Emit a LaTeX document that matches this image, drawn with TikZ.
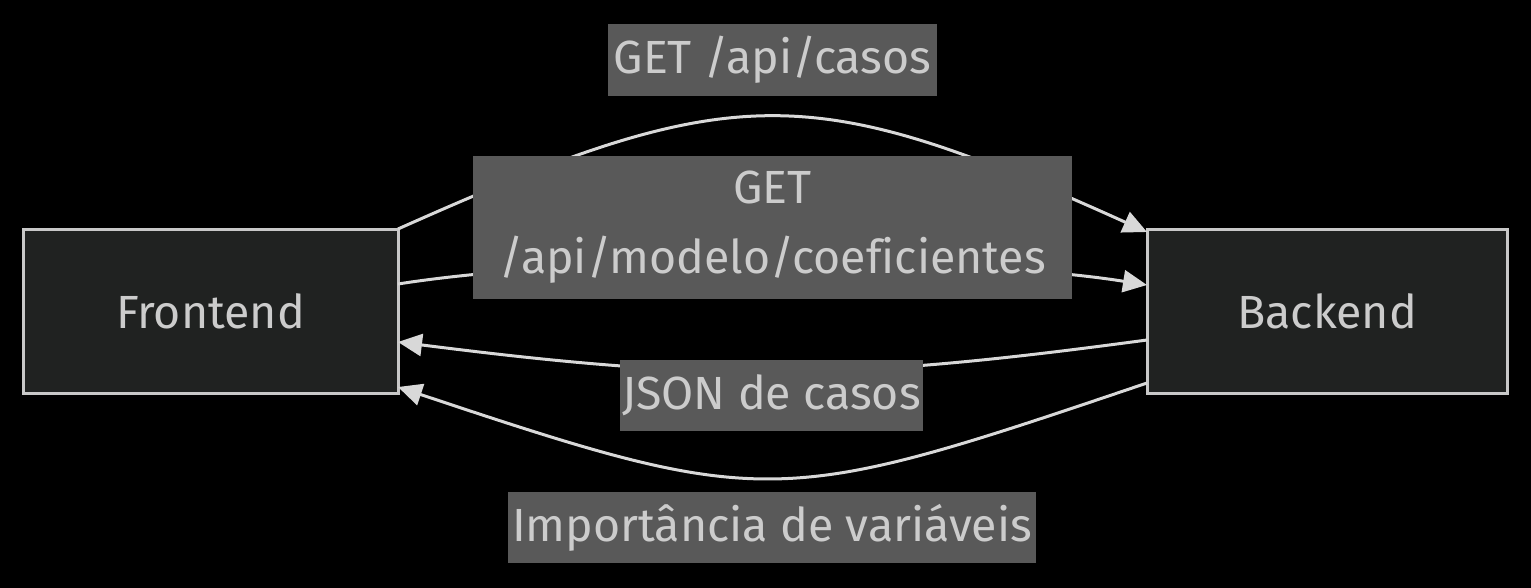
\documentclass[tikz,border=0pt]{standalone}
\usepackage{fontspec}
\setmainfont{Fira Sans}[Ligatures=NoCommon]
\usetikzlibrary{arrows.meta}
\definecolor{nodefill}{HTML}{202221}
\definecolor{nodeline}{HTML}{C8C8C8}
\definecolor{textgray}{HTML}{CCCCCC}
\definecolor{labelfill}{HTML}{595959}
\definecolor{edgeline}{HTML}{D8D8D8}
\begin{document}
\begin{tikzpicture}[x=1pt,y=-1pt,
  every node/.style={font=\fontsize{46.5}{70}\selectfont,text=textgray},
  service/.style={draw=nodeline,line width=3pt,fill=nodefill,inner sep=0pt},
  edgelabel/.style={fill=labelfill,inner sep=0pt,align=center},
  flow/.style={draw=edgeline,line width=3pt,-{Triangle[length=24pt,width=22pt]}}]
  % Background and page size
  \fill[black] (0,0) rectangle (1531,588);
  \useasboundingbox (0,0) rectangle (1531,588);

  % Services
  \node[service,minimum width=375pt,minimum height=163pt] (front) at (210.5,311.5) {Frontend};
  \node[service,minimum width=360pt,minimum height=163pt] (back) at (1327,311.5) {Backend};

  % End points on the borders
  \coordinate (f1) at (398,229);
  \coordinate (f2) at (398,284);
  \coordinate (f3) at (398,342);
  \coordinate (f4) at (398,387);
  \coordinate (b1) at (1147,232);
  \coordinate (b2) at (1147,285);
  \coordinate (b3) at (1147,340);
  \coordinate (b4) at (1147,383);

  % Requests and responses
  \draw[flow] (f1) .. controls (736,78) and (810,80) .. (b1);
  \draw[flow] (f2) .. controls (500,268) and (640,262) .. (772,262)
    .. controls (900,262) and (1040,268) .. (b2);
  \draw[flow] (b3) .. controls (1035,355) and (900,372) .. (771,372)
    .. controls (640,372) and (510,356) .. (f3);
  \draw[flow] (b4) .. controls (778,508) and (767,510) .. (f4);

  % Edge labels
  \node[edgelabel,minimum width=329pt,minimum height=72pt] (casos) at (772.5,60) {GET /api/casos};
  \node[edgelabel,minimum width=599pt,minimum height=143pt] (coef) at (772.5,227.5) {GET\\/api/modelo/coeficientes};
  \node[edgelabel,minimum width=303pt,minimum height=71pt] (json) at (771.5,395.5) {JSON de casos};
  \node[edgelabel,minimum width=528pt,minimum height=71pt] (imp) at (772,527.5) {Importância de variáveis};
\end{tikzpicture}
\end{document}
